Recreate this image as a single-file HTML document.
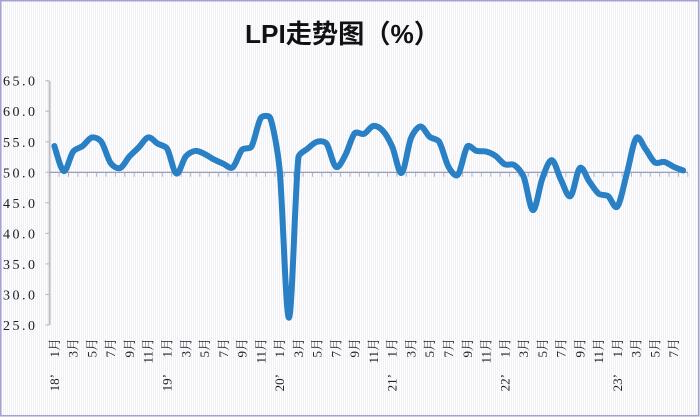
<!DOCTYPE html>
<html>
<head>
<meta charset="utf-8">
<style>
  html,body{margin:0;padding:0;}
  body{width:700px;height:417px;overflow:hidden;background:#fbfbfd;}
  .bg{position:absolute;left:0;top:0;width:700px;height:417px;
      background:repeating-linear-gradient(90deg,#ffffff 0px,#ffffff 1px,#f1f1f5 1px,#f1f1f5 2px);}
  svg{position:absolute;left:0;top:0;}
  .yl{font-family:"Liberation Serif","Noto Serif CJK SC",serif;font-size:14px;fill:#1c1c28;}
  .xl{font-family:"Liberation Serif","Noto Serif CJK SC",serif;font-size:13px;fill:#1c1c28;}
  .tt{font-family:"Liberation Sans","Noto Sans CJK SC",sans-serif;font-size:26px;font-weight:bold;fill:#111;}
</style>
</head>
<body>
<div class="bg"></div>
<svg width="700" height="417" viewBox="0 0 700 417" xmlns="http://www.w3.org/2000/svg">
  <!-- border -->
  <rect x="0.75" y="0.75" width="698" height="415" fill="none" stroke="#a3a3d2" stroke-width="1.5"/>

  <!-- title -->
  <text class="tt" x="342.5" y="43" text-anchor="middle" textLength="195" lengthAdjust="spacingAndGlyphs">LPI走势图（%）</text>

  <!-- y axis -->
  <line x1="49.6" y1="80.7" x2="49.6" y2="325" stroke="#bdbdc4" stroke-width="2"/>
  <g stroke="#bdbdc4" stroke-width="1.2">
    <line x1="45.5" y1="80.7" x2="49" y2="80.7"/>
    <line x1="45.5" y1="111.2" x2="49" y2="111.2"/>
    <line x1="45.5" y1="141.8" x2="49" y2="141.8"/>
    <line x1="45.5" y1="172.3" x2="49" y2="172.3"/>
    <line x1="45.5" y1="202.8" x2="49" y2="202.8"/>
    <line x1="45.5" y1="233.4" x2="49" y2="233.4"/>
    <line x1="45.5" y1="263.9" x2="49" y2="263.9"/>
    <line x1="45.5" y1="294.5" x2="49" y2="294.5"/>
    <line x1="45.5" y1="325" x2="49" y2="325"/>
  </g>
  <g class="yl">
    <text x="3" y="85.7" textLength="32" lengthAdjust="spacing">65.0</text>
    <text x="3" y="116.2" textLength="32" lengthAdjust="spacing">60.0</text>
    <text x="3" y="146.8" textLength="32" lengthAdjust="spacing">55.0</text>
    <text x="3" y="177.3" textLength="32" lengthAdjust="spacing">50.0</text>
    <text x="3" y="207.8" textLength="32" lengthAdjust="spacing">45.0</text>
    <text x="3" y="238.4" textLength="32" lengthAdjust="spacing">40.0</text>
    <text x="3" y="268.9" textLength="32" lengthAdjust="spacing">35.0</text>
    <text x="3" y="299.5" textLength="32" lengthAdjust="spacing">30.0</text>
    <text x="3" y="330" textLength="32" lengthAdjust="spacing">25.0</text>
  </g>

  <!-- x axis at 50 -->
  <line x1="49.6" y1="172.3" x2="688" y2="172.3" stroke="#8d90b2" stroke-width="1.2"/>
  <g id="xticks" stroke="#a9b6c8" stroke-width="1"></g>

  <!-- series -->
  <g id="series">
    <g transform="translate(54.39,172.3) scale(9.384,-6.108)">
      <polyline id="fallback" fill="none" stroke="#2a80c4" stroke-width="6" stroke-linejoin="round" stroke-linecap="round" vector-effect="non-scaling-stroke"
        points="0,4.3 1,0.2 2,3.4 3,4.3 4,5.7 5,5.0 6,1.5 7,0.7 8,2.6 9,4.1 10,5.7 11,4.7 12,3.9 13,-0.2 14,2.6 15,3.5 16,3.0 17,2.1 18,1.4 19,0.8 20,3.7 21,4.2 22,8.9 23,8.9 24,0.5 25,-23.8 26,2.4 27,3.9 28,5.0 29,4.7 30,0.9 31,2.8 32,6.4 33,6.3 34,7.6 35,6.8 36,4.2 37,-0.1 38,5.6 39,7.5 40,5.8 41,5.0 42,0.9 43,-0.4 44,4.2 45,3.5 46,3.4 47,2.7 48,1.3 49,1.2 50,-0.7 51,-6.2 52,-1.0 53,2.0 54,-1.3 55,-3.9 56,0.7 57,-1.5 58,-3.5 59,-3.9 60,-5.6 61,-0.2 62,5.6 63,3.8 64,1.6 65,1.7 66,0.9 67,0.3"/>
    </g>
    <path id="smooth" d="" fill="none" stroke="#2a80c4" stroke-width="6" stroke-linejoin="round" stroke-linecap="round"/>
  </g>

  <!-- x labels (months) -->
  <g class="xl" text-anchor="end" dominant-baseline="central">
    <text transform="translate(54.4,338) rotate(-90)">1月</text>
    <text transform="translate(73.2,338) rotate(-90)">3月</text>
    <text transform="translate(91.9,338) rotate(-90)">5月</text>
    <text transform="translate(110.7,338) rotate(-90)">7月</text>
    <text transform="translate(129.5,338) rotate(-90)">9月</text>
    <text transform="translate(148.2,338) rotate(-90)">11月</text>
    <text transform="translate(167.0,338) rotate(-90)">1月</text>
    <text transform="translate(185.8,338) rotate(-90)">3月</text>
    <text transform="translate(204.5,338) rotate(-90)">5月</text>
    <text transform="translate(223.3,338) rotate(-90)">7月</text>
    <text transform="translate(242.1,338) rotate(-90)">9月</text>
    <text transform="translate(260.8,338) rotate(-90)">11月</text>
    <text transform="translate(279.6,338) rotate(-90)">1月</text>
    <text transform="translate(298.4,338) rotate(-90)">3月</text>
    <text transform="translate(317.1,338) rotate(-90)">5月</text>
    <text transform="translate(335.9,338) rotate(-90)">7月</text>
    <text transform="translate(354.7,338) rotate(-90)">9月</text>
    <text transform="translate(373.4,338) rotate(-90)">11月</text>
    <text transform="translate(392.2,338) rotate(-90)">1月</text>
    <text transform="translate(411.0,338) rotate(-90)">3月</text>
    <text transform="translate(429.7,338) rotate(-90)">5月</text>
    <text transform="translate(448.5,338) rotate(-90)">7月</text>
    <text transform="translate(467.3,338) rotate(-90)">9月</text>
    <text transform="translate(486.0,338) rotate(-90)">11月</text>
    <text transform="translate(504.8,338) rotate(-90)">1月</text>
    <text transform="translate(523.6,338) rotate(-90)">3月</text>
    <text transform="translate(542.4,338) rotate(-90)">5月</text>
    <text transform="translate(561.1,338) rotate(-90)">7月</text>
    <text transform="translate(579.9,338) rotate(-90)">9月</text>
    <text transform="translate(598.7,338) rotate(-90)">11月</text>
    <text transform="translate(617.4,338) rotate(-90)">1月</text>
    <text transform="translate(636.2,338) rotate(-90)">3月</text>
    <text transform="translate(654.9,338) rotate(-90)">5月</text>
    <text transform="translate(673.7,338) rotate(-90)">7月</text>
  </g>
  <!-- x labels (years) -->
  <g class="xl" text-anchor="end" dominant-baseline="central">
    <text transform="translate(54.4,374) rotate(-90)">18’</text>
    <text transform="translate(167.0,374) rotate(-90)">19’</text>
    <text transform="translate(279.6,374) rotate(-90)">20’</text>
    <text transform="translate(392.2,374) rotate(-90)">21’</text>
    <text transform="translate(504.8,374) rotate(-90)">22’</text>
    <text transform="translate(617.4,374) rotate(-90)">23’</text>
  </g>
</svg>
<script>
(function(){
  var NS="http://www.w3.org/2000/svg";
  var g=document.getElementById("xticks");
  for(var k=0;k<=68;k++){
    var x=49.7+k*9.384;
    var l=document.createElementNS(NS,"line");
    l.setAttribute("x1",x.toFixed(2));l.setAttribute("x2",x.toFixed(2));
    l.setAttribute("y1","172.8");l.setAttribute("y2","176.8");
    g.appendChild(l);
  }
  var v=[54.3,50.2,53.4,54.3,55.7,55.0,51.5,50.7,52.6,54.1,55.7,54.7,
         53.9,49.8,52.6,53.5,53.0,52.1,51.4,50.8,53.7,54.2,58.9,58.9,
         50.5,26.2,52.4,53.9,55.0,54.7,50.9,52.8,56.4,56.3,57.6,56.8,
         54.2,49.9,55.6,57.5,55.8,55.0,50.9,49.6,54.2,53.5,53.4,52.7,
         51.3,51.2,49.3,43.8,49.0,52.0,48.7,46.1,50.7,48.5,46.5,46.1,
         44.4,49.8,55.6,53.8,51.6,51.7,50.9,50.3];
  var p=v.map(function(val,i){return [54.39+i*9.384,172.3-(val-50)*6.108];});
  function len(a,b){return Math.sqrt((a[0]-b[0])*(a[0]-b[0])+(a[1]-b[1])*(a[1]-b[1]));}
  function handle(base,dx,dy,maxLen){
    var L=Math.sqrt(dx*dx+dy*dy);
    if(L>maxLen && L>0){dx*=maxLen/L;dy*=maxLen/L;}
    return [base[0]+dx,base[1]+dy];
  }
  var d="M"+p[0][0].toFixed(2)+","+p[0][1].toFixed(2);
  for(var i=0;i<p.length-1;i++){
    var p0=p[i-1]||p[i],p1=p[i],p2=p[i+1],p3=p[i+2]||p[i+1];
    var seg=len(p1,p2);
    var c1=handle(p1,(p2[0]-p0[0])/6,(p2[1]-p0[1])/6,seg/3);
    var c2=handle(p2,-(p3[0]-p1[0])/6,-(p3[1]-p1[1])/6,seg/3);
    d+=" C"+c1[0].toFixed(2)+","+c1[1].toFixed(2)+" "+c2[0].toFixed(2)+","+c2[1].toFixed(2)+" "+p2[0].toFixed(2)+","+p2[1].toFixed(2);
  }
  document.getElementById("smooth").setAttribute("d",d);
  var f=document.getElementById("fallback");
  f.parentNode.removeChild(f);
})();
</script>
</body>
</html>
